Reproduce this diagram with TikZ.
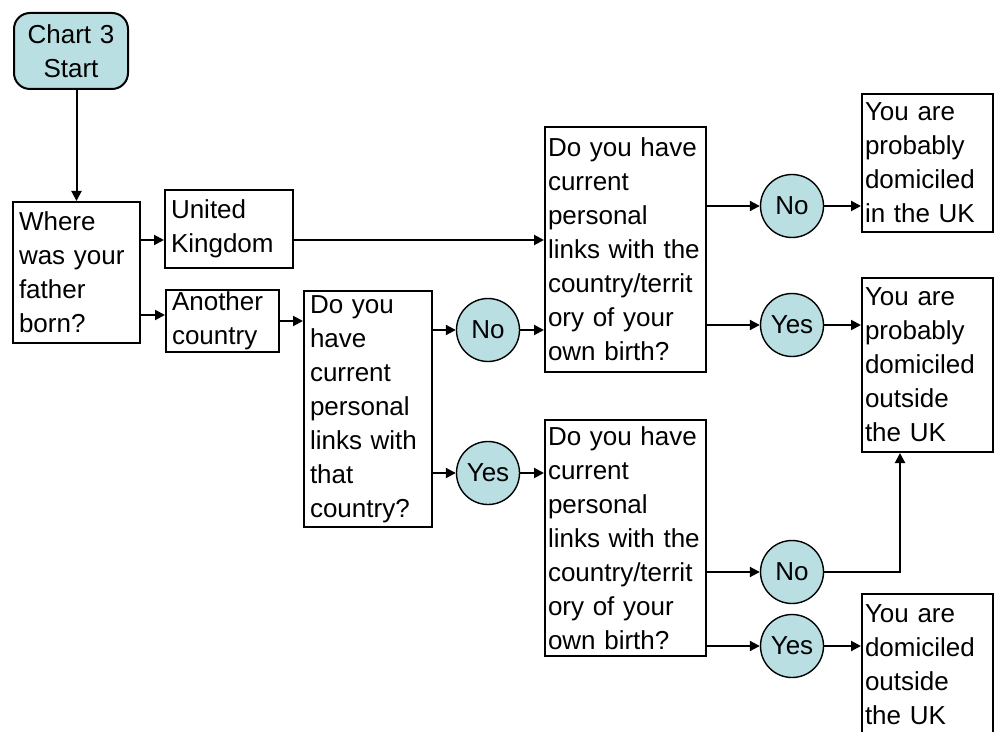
\documentclass[tikz,border=0pt]{standalone}
\usepackage{fontspec}
\setmainfont{Liberation Sans}
\usetikzlibrary{positioning,arrows.meta}
\definecolor{answerfill}{RGB}{185,223,227}

\begin{document}
\begin{tikzpicture}[x=0.5pt,y=-0.5pt,
box/.style={rectangle,draw,line width=1pt,align=left,inner xsep=1.5pt,inner ysep=1pt,font=\fontsize{13}{17}\selectfont},
ans/.style={circle,draw,line width=0.7pt,fill=answerfill,minimum size=31.5pt,inner sep=0pt,font=\fontsize{13}{17}\selectfont},
arr/.style={line width=1pt,-{Triangle[length=5pt,width=5pt]}}
]
\useasboundingbox (0,0) rectangle (994,732);
\node [box,rounded corners=8pt,fill=answerfill,align=center,text width=54pt,minimum height=38pt] (start) at (71,51) {Chart 3\\Start};
\node [box,inner xsep=3pt,text width=57.5pt,minimum height=70.5pt] (where) at (76.5,272.5) {Where\\was your\\father\\born?};
\node [box,inner xsep=3pt,text width=58pt,minimum height=39pt] (uk) at (229,229) {United\\Kingdom};
\node [box,inner xsep=3pt,text width=50.5pt,minimum height=31pt] (other) at (222.5,321) {Another\\country};
\node [box,inner xsep=3pt,text width=58pt,minimum height=118pt] (linkdad) at (368,409) {Do you\\have\\current\\personal\\links with\\that\\country?};
\node [box,text width=77.5pt,minimum height=122.5pt] (linkown) at (625.5,249.5) {Do you have\\current\\personal\\links with the\\country/territ\\ory of your\\own birth?};
\node [box,text width=77.5pt,minimum height=118pt] (linkown2) at (625.5,538) {Do you have\\current\\personal\\links with the\\country/territ\\ory of your\\own birth?};
\node [box,text width=62.5pt,minimum height=69pt] (inuk) at (927.5,163) {You are\\probably\\domiciled\\in the UK};
\node [box,text width=62.5pt,minimum height=87pt] (outuk) at (927.5,365) {You are\\probably\\domiciled\\outside\\the UK};
\node [box,text width=62.5pt,minimum height=71pt] (outsure) at (927.5,665) {You are\\domiciled\\outside\\the UK};

% answers
\node [ans] (no1) at (488,330) {No};
\node [ans] (yes1) at (488,473) {Yes};
\node [ans] (no2) at (792,206) {No};
\node [ans] (yes2) at (792,325) {Yes};
\node [ans] (no3) at (792,572) {No};
\node [ans] (yes3) at (792,646) {Yes};

% connectors
\coordinate (ukrow) at ([yshift=-5.5pt]uk.east);
\coordinate (otherrow) at ([yshift=3pt]other.west);
\draw [arr] (where.north |- start.south) -- (where.north);
\draw [arr] (where.east |- ukrow) -- (uk.west |- ukrow);
\draw [arr] (ukrow) -- (ukrow -| linkown.west);
\draw [arr] (where.east |- otherrow) -- (otherrow);
\draw [arr] (other.east) -- (other.east -| linkdad.west);
\draw [arr] (linkdad.east |- no1) -- (no1);
\draw [arr] (linkdad.east |- yes1) -- (yes1);
\draw [arr] (no1) -- (no1 -| linkown.west);
\draw [arr] (yes1) -- (yes1 -| linkown2.west);
\draw [arr] (linkown.east |- no2) -- (no2);
\draw [arr] (linkown.east |- yes2) -- (yes2);
\draw [arr] (no2) -- (no2 -| inuk.west);
\draw [arr] (yes2) -- (yes2 -| outuk.west);
\draw [arr] (linkown2.east |- no3) -- (no3);
\draw [arr] (linkown2.east |- yes3) -- (yes3);
\draw [arr] (no3) -| ([xshift=-13.75pt]outuk.south);
\draw [arr] (yes3) -- (yes3 -| outsure.west);
\end{tikzpicture}
\end{document}
